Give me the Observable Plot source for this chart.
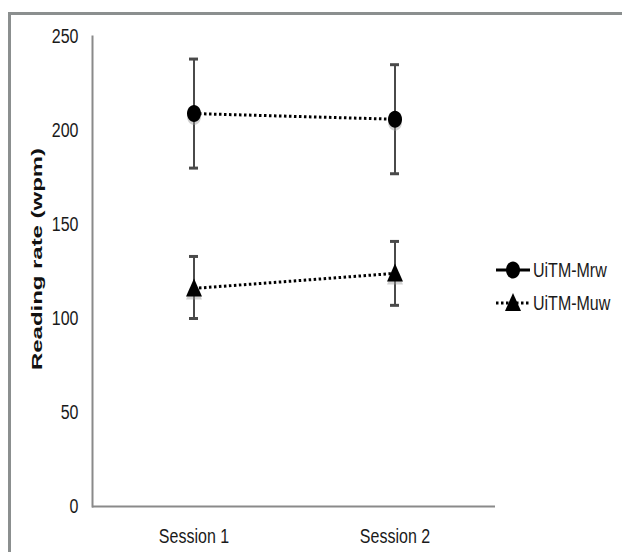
<!DOCTYPE html>
<html>
<head>
<meta charset="utf-8">
<script src="https://cdn.jsdelivr.net/npm/d3@7"></script>
<script src="https://cdn.jsdelivr.net/npm/@observablehq/plot@0.6"></script>
<style>
  html, body { margin: 0; padding: 0; background: #fff; }
  #wrap { position: relative; width: 622px; height: 552px; overflow: hidden; background: #fff; }
  #border { position: absolute; left: 8px; top: 12px; width: 700px; height: 700px; border: 3px solid #8b8f8f; box-sizing: border-box; }
  #chart { position: absolute; left: 0; top: 0; }
  #legend { position: absolute; left: 0; top: 0; }
</style>
</head>
<body>
<div id="wrap">
  <div id="border"></div>
  <div id="chart"></div>
  <svg id="legend" width="622" height="552"></svg>
</div>
<script>
// ---- data ----
const sessions = ["Session 1", "Session 2"];
const seriesNames = ["UiTM-Mrw", "UiTM-Muw"];
const mrwMean = [209, 206];
const mrwLow  = [180, 177];
const mrwHigh = [238, 235];
const muwMean = [116, 124];
const muwLow  = [100, 107];
const muwHigh = [133, 141];
const yTicks = [0, 50, 100, 150, 200, 250];
const yLabel = "Reading rate (wpm)";

// ---- build rows ----
const rows = [];
sessions.forEach((s, i) => {
  rows.push({session: s, series: seriesNames[0], mean: mrwMean[i], low: mrwLow[i], high: mrwHigh[i]});
  rows.push({session: s, series: seriesNames[1], mean: muwMean[i], low: muwLow[i], high: muwHigh[i]});
});
const mrw = rows.filter(d => d.series === seriesNames[0]);
const muw = rows.filter(d => d.series === seriesNames[1]);

// custom marker symbols
const ellipseSym = {
  draw(ctx) {
    const rx = 7, ry = 8.5, k = 0.5523;
    ctx.moveTo(rx, 0);
    ctx.bezierCurveTo(rx, ry * k, rx * k, ry, 0, ry);
    ctx.bezierCurveTo(-rx * k, ry, -rx, ry * k, -rx, 0);
    ctx.bezierCurveTo(-rx, -ry * k, -rx * k, -ry, 0, -ry);
    ctx.bezierCurveTo(rx * k, -ry, rx, -ry * k, rx, 0);
    ctx.closePath();
  }
};
const triSym = {
  draw(ctx) {
    ctx.moveTo(0, -10);
    ctx.lineTo(8, 8);
    ctx.lineTo(-8, 8);
    ctx.closePath();
  }
};

const font = "'Liberation Sans', Arial, sans-serif";
const errColor = "#4a4a4a";
const capInset = 96;
const dash = "2.5 2.5";

const chart = Plot.plot({
  width: 622,
  height: 552,
  marginLeft: 92,
  marginRight: 127,
  marginTop: 36,
  marginBottom: 46,
  style: { fontFamily: font, fontSize: "20px", color: "#1a1a1a", background: "transparent", overflow: "visible" },
  x: { type: "band", domain: sessions, padding: 0, axis: null },
  y: { domain: [0, 250], axis: null },
  marks: [
    Plot.axisY({ ticks: yTicks, tickSize: 0, tickPadding: 14, label: null, tickFormat: d => String(d) }),
    Plot.axisX({ tickSize: 0, tickPadding: 22, label: null }),
    Plot.frame({ anchor: "left", stroke: "#8a8a8a", strokeWidth: 2 }),
    Plot.ruleY([0], { stroke: "#8a8a8a", strokeWidth: 2 }),
    // error bars
    Plot.ruleX(rows, { x: "session", y1: "low", y2: "high", stroke: errColor, strokeWidth: 2 }),
    Plot.tickY(rows, { x: "session", y: "high", stroke: errColor, strokeWidth: 3, insetLeft: capInset, insetRight: capInset }),
    Plot.tickY(rows, { x: "session", y: "low", stroke: errColor, strokeWidth: 3, insetLeft: capInset, insetRight: capInset }),
    // dotted lines
    Plot.line(mrw, { x: "session", y: "mean", stroke: "#000", strokeWidth: 3, strokeDasharray: dash, strokeLinecap: "butt" }),
    Plot.line(muw, { x: "session", y: "mean", stroke: "#000", strokeWidth: 3, strokeDasharray: dash, strokeLinecap: "butt" }),
    // marker shadows
    Plot.dot(mrw, { x: "session", y: "mean", symbol: ellipseSym, fill: "#999", fillOpacity: 0.45, dy: 3, r: 7 }),
    Plot.dot(muw, { x: "session", y: "mean", symbol: triSym, fill: "#999", fillOpacity: 0.45, dy: 3, r: 7 }),
    // markers
    Plot.dot(mrw, { x: "session", y: "mean", symbol: ellipseSym, fill: "#000", r: 7 }),
    Plot.dot(muw, { x: "session", y: "mean", symbol: triSym, fill: "#000", r: 7 })
  ]
});
document.getElementById("chart").appendChild(chart);

// condense tick labels (narrow look)
function condense(sel, k) {
  sel.each(function () {
    const len = this.getComputedTextLength();
    if (len > 0) {
      this.setAttribute("textLength", (len * k).toFixed(1));
      this.setAttribute("lengthAdjust", "spacingAndGlyphs");
    }
  });
}
condense(d3.select(chart).selectAll("text"), 0.8);

// y-axis title
d3.select(chart).append("text")
  .attr("transform", "translate(42,259) rotate(-90)")
  .attr("text-anchor", "middle")
  .attr("font-family", font)
  .attr("font-weight", "bold")
  .attr("font-size", 14)
  .attr("fill", "#111")
  .attr("textLength", 222)
  .attr("lengthAdjust", "spacingAndGlyphs")
  .text(yLabel);

// legend
const leg = d3.select("#legend");
const legY = [270, 303];
const legSym = [ellipseSym, triSym];
seriesNames.forEach((name, i) => {
  const g = leg.append("g").attr("transform", `translate(0,${legY[i]})`);
  g.append("line").attr("x1", 496).attr("x2", 530).attr("y1", 0).attr("y2", 0)
    .attr("stroke", "#000").attr("stroke-width", 3)
    .attr("stroke-dasharray", i === 0 ? null : dash);
  g.append("path").attr("transform", "translate(513,0)")
    .attr("d", d3.symbol(legSym[i])()).attr("fill", "#000");
  g.append("text").attr("transform", "translate(533,0) scale(0.8,1)").attr("dy", "0.35em")
    .attr("font-family", font).attr("font-size", 20).attr("fill", "#1a1a1a")
    .text(name);
});
</script>
</body>
</html>
